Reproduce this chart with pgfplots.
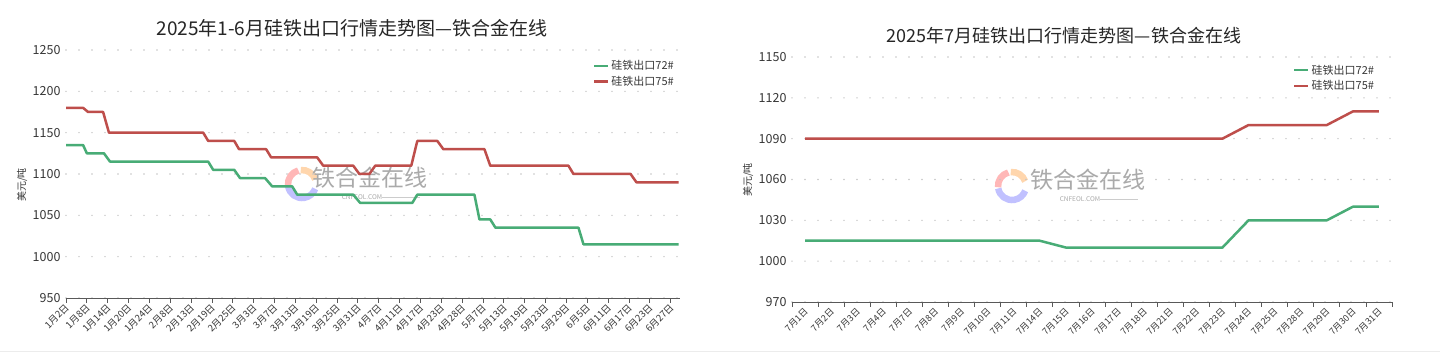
\documentclass[border=0pt]{standalone}
\usepackage{pgfplots}
\pgfplotsset{compat=1.18}
\usepackage{fontspec}
\setmainfont{Noto Sans CJK SC}
\definecolor{gline}{RGB}{72,172,118}
\definecolor{rline}{RGB}{190,78,75}
\definecolor{tickc}{RGB}{55,55,55}
\definecolor{wm}{RGB}{170,170,170}
\pgfplotsset{
  mystyle/.style={
    scale only axis,
    axis lines*=left,
    y axis line style={draw=none},
    x axis line style={draw=gray!70!black, line width=0.8pt},
    ytick style={draw=none},
    xtick align=outside,
    major tick length=5pt,
    minor tick length=5pt,
    x tick style={draw=gray!70!black, line width=0.8pt},
    ymajorgrids,
    grid style={line cap=round, dash pattern=on 0pt off 13pt, line width=1.6pt, color=gray!45},
    tick label style={color=tickc},
    yticklabel style={font=\fontsize{12.5}{12.5}\selectfont, xshift=-2pt},
    xticklabel style={font=\fontsize{9.5}{10}\selectfont, rotate=45, anchor=east, inner sep=1pt, yshift=-3pt},
    /pgf/number format/assume math mode=true,
    /pgf/number format/1000 sep={},
    legend style={draw=none, fill=none, font=\fontsize{11}{12}\selectfont, text=tickc, row sep=1pt, cells={anchor=west}},
    legend image code/.code={\draw[##1, line width=2.5pt] (0pt,0pt) -- (14pt,0pt);},
    clip=false,
  }
}
\begin{document}
\begin{tikzpicture}
\path[use as bounding box] (0pt,0pt) rectangle (1440pt,358pt);
\fill[white] (0pt,0pt) rectangle (1440pt,358pt);
\draw[gray!15, line width=1pt] (0pt,6pt) -- (1440pt,6pt);
% watermarks
\foreach \cx/\cy/\tx in {302/174/370, 1012/172/1088}{
  \draw[line width=6.5pt, red!35, opacity=0.8] (\cx pt,\cy pt) ++(105:14pt) arc (105:185:14pt);
  \draw[line width=6.5pt, orange!40, opacity=0.8] (\cx pt,\cy pt) ++(20:14pt) arc (20:95:14pt);
  \draw[line width=6.5pt, blue!30, opacity=0.8] (\cx pt,\cy pt) ++(190:14pt) arc (190:340:14pt);
  \node[text=wm, font=\fontsize{23}{23}\selectfont] at (\tx pt,\cy pt+6pt) {铁合金在线};
  \node[text=wm, font=\fontsize{6.5}{6.5}\selectfont] at (\tx pt-8pt,\cy pt-13pt) {CNFEOL.COM};
  \draw[wm!60, line width=0.5pt] (\tx pt+12pt,\cy pt-13pt) -- (\tx pt+50pt,\cy pt-13pt);
}
% titles
\node[text=black!85, font=\fontsize{19}{19}\selectfont] at (352pt,330pt) {2025年1-6月硅铁出口行情走势图—铁合金在线};
\node[text=black!85, font=\fontsize{18}{18}\selectfont] at (1064pt,322pt) {2025年7月硅铁出口行情走势图—铁合金在线};
% y labels
\node[rotate=90, text=tickc, font=\fontsize{10}{10}\selectfont] at (22pt,173pt) {美元/吨};
\node[rotate=90, text=tickc, font=\fontsize{10}{10}\selectfont] at (748pt,178pt) {美元/吨};

\begin{axis}[mystyle,
  at={(66pt,60pt)}, anchor=south west,
  width=614pt, height=248pt,
  xmin=0, xmax=29.45, ymin=950, ymax=1250,
  ytick={950,1000,...,1250},
  xtick={0,...,29},
  xticklabels={1月2日,1月8日,1月14日,1月20日,1月24日,2月8日,2月13日,2月19日,2月25日,3月3日,3月7日,3月13日,3月19日,3月25日,3月31日,4月7日,4月11日,4月17日,4月23日,4月28日,5月7日,5月13日,5月19日,5月23日,5月29日,6月5日,6月11日,6月17日,6月23日,6月27日},
  legend style={at={(0.853,0.975)}, anchor=north west},
]
\addplot[gline, line width=2.5pt, line join=round] coordinates {
(0,1135) (0.82,1135) (1.0,1125) (1.82,1125) (2.11,1115) (6.82,1115) (7.06,1105) (8.07,1105) (8.35,1095) (9.55,1095) (9.89,1085) (10.85,1085) (11.09,1075) (13.78,1075) (14.11,1065) (16.61,1065) (16.85,1075) (19.59,1075) (19.83,1045) (20.35,1045) (20.6,1035) (24.58,1035) (24.82,1015) (29.38,1015)};
\addlegendentry{硅铁出口72\#}
\addplot[rline, line width=2.5pt, line join=round] coordinates {
(0,1180) (0.82,1180) (1.06,1175) (1.78,1175) (2.06,1150) (6.58,1150) (6.82,1140) (8.07,1140) (8.3,1130) (9.6,1130) (9.84,1120) (12.05,1120) (12.34,1110) (13.78,1110) (14.07,1100) (14.55,1100) (14.83,1110) (16.56,1110) (16.85,1140) (17.81,1140) (18.1,1130) (20.07,1130) (20.35,1110) (24.1,1110) (24.34,1100) (27.08,1100) (27.36,1090) (29.38,1090)};
\addlegendentry{硅铁出口75\#}
\end{axis}

\begin{axis}[mystyle,
  at={(792pt,56pt)}, anchor=south west,
  width=600pt, height=245pt,
  xmin=-0.5, xmax=22.5, ymin=970, ymax=1150,
  ytick={970,1000,...,1150},
  xtick={0,...,22},
  major x tick style={draw=none},
  minor xtick={-0.5,0.5,...,22.5},
  minor x tick style={draw=gray!70!black, line width=0.8pt},
  xticklabels={7月1日,7月2日,7月3日,7月4日,7月7日,7月8日,7月9日,7月10日,7月11日,7月14日,7月15日,7月16日,7月17日,7月18日,7月21日,7月22日,7月23日,7月24日,7月25日,7月28日,7月29日,7月30日,7月31日},
  xticklabel style={font=\fontsize{9}{9}\selectfont},
  legend style={at={(0.83,0.985)}, anchor=north west},
]
\addplot[gline, line width=2.5pt, line join=round] coordinates {
(0,1015) (1,1015) (2,1015) (3,1015) (4,1015) (5,1015) (6,1015) (7,1015) (8,1015) (9,1015) (10,1010) (11,1010) (12,1010) (13,1010) (14,1010) (15,1010) (16,1010) (17,1030) (18,1030) (19,1030) (20,1030) (21,1040) (22,1040)};
\addlegendentry{硅铁出口72\#}
\addplot[rline, line width=2.5pt, line join=round] coordinates {
(0,1090) (1,1090) (2,1090) (3,1090) (4,1090) (5,1090) (6,1090) (7,1090) (8,1090) (9,1090) (10,1090) (11,1090) (12,1090) (13,1090) (14,1090) (15,1090) (16,1090) (17,1100) (18,1100) (19,1100) (20,1100) (21,1110) (22,1110)};
\addlegendentry{硅铁出口75\#}
\end{axis}
\end{tikzpicture}
\end{document}
